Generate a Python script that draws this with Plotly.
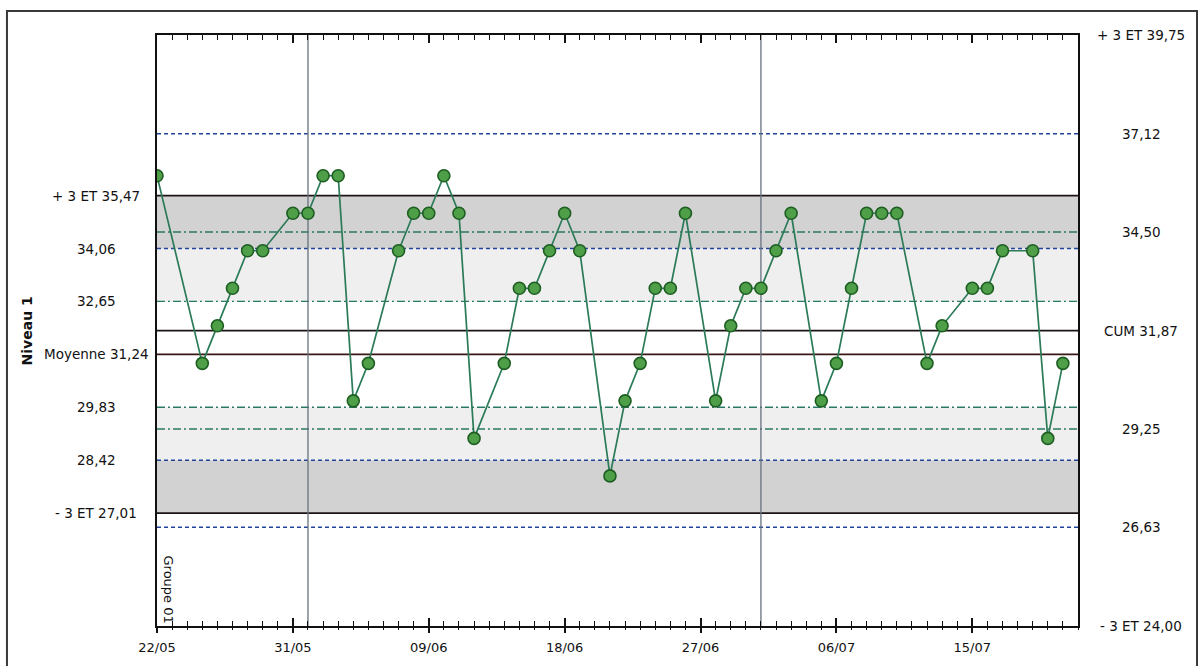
import plotly.graph_objects as go

# Control chart data: date of each run and measured value (Niveau 1)
dates = [
    "2009-05-22", "2009-05-25", "2009-05-26", "2009-05-27", "2009-05-28",
    "2009-05-29", "2009-05-31", "2009-06-01", "2009-06-02", "2009-06-03",
    "2009-06-04", "2009-06-05", "2009-06-07", "2009-06-08", "2009-06-09",
    "2009-06-10", "2009-06-11", "2009-06-12", "2009-06-14", "2009-06-15",
    "2009-06-16", "2009-06-17", "2009-06-18", "2009-06-19", "2009-06-21",
    "2009-06-22", "2009-06-23", "2009-06-24", "2009-06-25", "2009-06-26",
    "2009-06-28", "2009-06-29", "2009-06-30", "2009-07-01", "2009-07-02",
    "2009-07-03", "2009-07-05", "2009-07-06", "2009-07-07", "2009-07-08",
    "2009-07-09", "2009-07-10", "2009-07-12", "2009-07-13", "2009-07-15",
    "2009-07-16", "2009-07-17", "2009-07-19", "2009-07-20", "2009-07-21",
]
values = [
    36, 31, 32, 33, 34, 34, 35, 35, 36, 36,
    30, 31, 34, 35, 35, 36, 35, 29, 31, 33,
    33, 34, 35, 34, 28, 30, 31, 33, 33, 35,
    30, 32, 33, 33, 34, 35, 30, 31, 33, 35,
    35, 35, 31, 32, 33, 33, 34, 34, 29, 31,
]

# Target statistics (left axis) and cumulative statistics (right axis)
mean_target = 31.24
left_vals = [35.47, 34.06, 32.65, 31.24, 29.83, 28.42, 27.01]
left_text = ["+ 3 ET 35,47", "34,06", "32,65", "Moyenne 31,24", "29,83", "28,42", "- 3 ET 27,01"]

right_vals = [39.75, 37.12, 34.50, 31.87, 29.25, 26.63, 24.00]
right_text = ["+ 3 ET 39,75", "37,12", "34,50", "CUM 31,87", "29,25", "26,63", "- 3 ET 24,00"]

month_starts = ["2009-06-01", "2009-07-01"]
x_range = ["2009-05-22", "2009-07-22"]
y_range = [24.0, 39.75]

FONT = "DejaVu Sans"
DAY_MS = 86400000

fig = go.Figure()

fig.add_trace(go.Scatter(
    x=dates, y=values, mode="lines+markers",
    line=dict(color="#2b7a58", width=1.7),
    marker=dict(size=12, color="#4e9f48", line=dict(color="#1e5e22", width=1.6)),
    showlegend=False, hoverinfo="x+y",
))

# invisible trace so the overlay axis (crossing bottom ticks) is drawn
fig.add_trace(go.Scatter(x=x_range, y=y_range, xaxis="x2", mode="none",
                         showlegend=False, hoverinfo="skip"))

shapes = []

def hband(y0, y1, color):
    shapes.append(dict(type="rect", xref="paper", x0=0, x1=1, yref="y", y0=y0, y1=y1,
                       fillcolor=color, line=dict(width=0), layer="below"))

def hline(y, color, dash, width):
    shapes.append(dict(type="line", xref="paper", x0=0, x1=1, yref="y", y0=y, y1=y,
                       line=dict(color=color, dash=dash, width=width), layer="below"))

# 1-2 SD and 2-3 SD zones of the target statistics
hband(left_vals[2], left_vals[1], "#efefef")
hband(left_vals[4], left_vals[5], "#efefef")
hband(left_vals[1], left_vals[0], "#d2d2d2")
hband(left_vals[5], left_vals[6], "#d2d2d2")

# +-1 SD (target and cumulative): dash-dot
for v in [left_vals[2], left_vals[4], right_vals[2], right_vals[4]]:
    hline(v, "#2a7866", "8px,3px,2px,3px", 1.4)
# +-2 SD (target and cumulative): dashed
for v in [left_vals[1], left_vals[5], right_vals[1], right_vals[5]]:
    hline(v, "#22449a", "4px,3px", 1.5)
# +-3 SD limits, target mean, cumulative mean
for v in [left_vals[0], left_vals[6], right_vals[3]]:
    hline(v, "#1c1414", "solid", 1.7)
hline(mean_target, "#3a1616", "solid", 1.7)

# month separators
for d in month_starts:
    shapes.append(dict(type="line", xref="x", x0=d, x1=d, yref="paper", y0=0, y1=1,
                       line=dict(color="#66727e", width=1.3), layer="below"))

# outer frame
shapes.append(dict(type="rect", xref="paper", yref="paper",
                   x0=-0.1629, x1=1.1292, y0=-0.08, y1=1.0406,
                   line=dict(color="#3a3a3a", width=2), fillcolor="rgba(0,0,0,0)"))

annotations = []
for v, t in zip(left_vals, left_text):
    annotations.append(dict(xref="paper", x=-0.0662, yref="y", y=v, text=t,
                            showarrow=False, xanchor="center", yanchor="middle",
                            font=dict(family=FONT, size=13.5, color="#111")))
for v, t in zip(right_vals, right_text):
    annotations.append(dict(xref="paper", x=1.0687, yref="y", y=v, text=t,
                            showarrow=False, xanchor="center", yanchor="middle",
                            font=dict(family=FONT, size=13.5, color="#111")))

annotations.append(dict(xref="paper", x=-0.1412, xanchor="center", yref="paper", y=0.5,
                        yanchor="middle", text="<b>Niveau 1</b>",
                        textangle=-90, showarrow=False,
                        font=dict(family=FONT, size=14, color="#111")))
annotations.append(dict(xref="x", x=x_range[0], xanchor="left", xshift=2,
                        yref="paper", y=0, yanchor="bottom", yshift=1,
                        text="Groupe 01", textangle=90, showarrow=False,
                        font=dict(family=FONT, size=13, color="#111")))

fig.update_layout(
    width=1203, height=666,
    margin=dict(l=157, r=125, t=35, b=40),
    paper_bgcolor="white", plot_bgcolor="white",
    font=dict(family=FONT, size=13, color="#111"),
    shapes=shapes, annotations=annotations,
    xaxis=dict(
        type="date", range=x_range, tick0=x_range[0], dtick=9 * DAY_MS,
        tickformat="%d/%m", ticks="inside", ticklen=8, tickwidth=1.6, tickcolor="#111",
        minor=dict(dtick=DAY_MS, tick0=x_range[0], ticks="inside", ticklen=5,
                   tickwidth=1.3, tickcolor="#111", showgrid=False),
        showline=True, linecolor="#111", linewidth=1.7, mirror="ticks",
        showgrid=False, zeroline=False, ticklabelstandoff=9,
        tickfont=dict(family=FONT, size=13, color="#111"),
    ),
    xaxis2=dict(
        type="date", range=x_range, overlaying="x", anchor="y", side="bottom",
        tick0=x_range[0], dtick=9 * DAY_MS, ticks="outside", ticklen=6, tickwidth=1.6,
        tickcolor="#111", showticklabels=False, showgrid=False, showline=False,
        minor=dict(dtick=DAY_MS, tick0=x_range[0], ticks="outside", ticklen=3,
                   tickwidth=1.3, tickcolor="#111", showgrid=False),
    ),
    yaxis=dict(
        range=y_range, showticklabels=False, ticks="", showgrid=False, zeroline=False,
        showline=True, linecolor="#111", linewidth=1.7, mirror=True,
    ),
)

fig.write_html("out.html")
